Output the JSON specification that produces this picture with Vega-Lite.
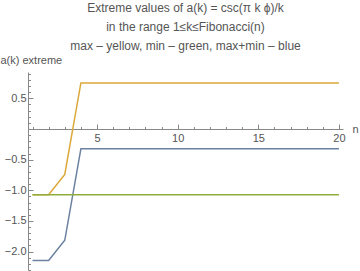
{
 "$schema": "https://vega.github.io/schema/vega-lite/v6.json",
 "width": 315, "height": 198,
 "autosize": {"type": "none"},
 "padding": {"left": 28, "top": 72, "right": 17, "bottom": 1},
 "background": "white",
 "title": {
  "text": ["Extreme values of a(k) = csc(π k ϕ)/k", "in the range 1≤k≤Fibonacci(n)", "max – yellow, min – green, max+min – blue"],
  "font": "Liberation Sans", "fontSize": 12, "fontWeight": "normal", "color": "#555555",
  "lineHeight": 19, "anchor": "middle", "offset": 1
 },
 "config": {
  "view": {"stroke": null},
  "axis": {"labelFont": "Liberation Sans", "titleFont": "Liberation Sans", "labelColor": "#555555", "titleColor": "#555555",
           "domainColor": "#888888", "tickColor": "#888888", "grid": false, "labelFontSize": 11, "titleFontSize": 11, "titleFontWeight": "normal", "labelFlush": false, "labelOverlap": false}
 },
 "data": {"values": [
  {"n": 1, "series": "max", "value": -1.073}, {"n": 2, "series": "max", "value": -1.073}, {"n": 3, "series": "max", "value": -0.742},
  {"n": 4, "series": "max", "value": 0.752}, {"n": 5, "series": "max", "value": 0.752}, {"n": 6, "series": "max", "value": 0.752},
  {"n": 7, "series": "max", "value": 0.752}, {"n": 8, "series": "max", "value": 0.752}, {"n": 9, "series": "max", "value": 0.752},
  {"n": 10, "series": "max", "value": 0.752}, {"n": 11, "series": "max", "value": 0.752}, {"n": 12, "series": "max", "value": 0.752},
  {"n": 13, "series": "max", "value": 0.752}, {"n": 14, "series": "max", "value": 0.752}, {"n": 15, "series": "max", "value": 0.752},
  {"n": 16, "series": "max", "value": 0.752}, {"n": 17, "series": "max", "value": 0.752}, {"n": 18, "series": "max", "value": 0.752},
  {"n": 19, "series": "max", "value": 0.752}, {"n": 20, "series": "max", "value": 0.752},
  {"n": 1, "series": "max+min", "value": -2.146}, {"n": 2, "series": "max+min", "value": -2.146}, {"n": 3, "series": "max+min", "value": -1.815},
  {"n": 4, "series": "max+min", "value": -0.321}, {"n": 5, "series": "max+min", "value": -0.321}, {"n": 6, "series": "max+min", "value": -0.321},
  {"n": 7, "series": "max+min", "value": -0.321}, {"n": 8, "series": "max+min", "value": -0.321}, {"n": 9, "series": "max+min", "value": -0.321},
  {"n": 10, "series": "max+min", "value": -0.321}, {"n": 11, "series": "max+min", "value": -0.321}, {"n": 12, "series": "max+min", "value": -0.321},
  {"n": 13, "series": "max+min", "value": -0.321}, {"n": 14, "series": "max+min", "value": -0.321}, {"n": 15, "series": "max+min", "value": -0.321},
  {"n": 16, "series": "max+min", "value": -0.321}, {"n": 17, "series": "max+min", "value": -0.321}, {"n": 18, "series": "max+min", "value": -0.321},
  {"n": 19, "series": "max+min", "value": -0.321}, {"n": 20, "series": "max+min", "value": -0.321},
  {"n": 1, "series": "min", "value": -1.073}, {"n": 2, "series": "min", "value": -1.073}, {"n": 3, "series": "min", "value": -1.073},
  {"n": 4, "series": "min", "value": -1.073}, {"n": 5, "series": "min", "value": -1.073}, {"n": 6, "series": "min", "value": -1.073},
  {"n": 7, "series": "min", "value": -1.073}, {"n": 8, "series": "min", "value": -1.073}, {"n": 9, "series": "min", "value": -1.073},
  {"n": 10, "series": "min", "value": -1.073}, {"n": 11, "series": "min", "value": -1.073}, {"n": 12, "series": "min", "value": -1.073},
  {"n": 13, "series": "min", "value": -1.073}, {"n": 14, "series": "min", "value": -1.073}, {"n": 15, "series": "min", "value": -1.073},
  {"n": 16, "series": "min", "value": -1.073}, {"n": 17, "series": "min", "value": -1.073}, {"n": 18, "series": "min", "value": -1.073},
  {"n": 19, "series": "min", "value": -1.073}, {"n": 20, "series": "min", "value": -1.073}
 ]},
 "layer": [
  {
   "mark": {"type": "line", "strokeWidth": 1.5, "clip": true},
   "encoding": {
    "x": {"field": "n", "type": "quantitative", "scale": {"domain": [0.72, 20.25], "nice": false, "zero": false},
          "axis": {"orient": "bottom", "offset": -141, "values": [5, 10, 15, 20], "tickSize": -5, "labelPadding": 8,
                   "title": "n", "titleX": 327, "titleY": 0, "titleAlign": "center", "titleBaseline": "middle"}},
    "y": {"field": "value", "type": "quantitative", "scale": {"domain": [-2.3, 0.93], "nice": false, "zero": false},
          "axis": {"orient": "left", "values": [-2, -1.5, -1, -0.5, 0.5], "format": ".1f", "tickSize": -5, "labelPadding": 7,
                   "title": "a(k) extreme", "titleAngle": 0, "titleX": -28, "titleY": -12, "titleAlign": "left", "titleBaseline": "middle"}},
    "color": {"field": "series", "type": "nominal",
              "scale": {"domain": ["max", "max+min", "min"], "range": ["#DBA83A", "#6A82A0", "#90AD3A"]}, "legend": null}
   }
  },
  {
   "mark": {"type": "line", "opacity": 0},
   "encoding": {
    "x": {"field": "n", "type": "quantitative",
          "axis": {"orient": "bottom", "offset": -141, "values": [1,2,3,4,6,7,8,9,11,12,13,14,16,17,18,19], "tickSize": -2.5, "labels": false, "domain": false, "title": null}},
    "y": {"field": "value", "type": "quantitative",
          "axis": {"orient": "left", "values": [-2.3,-2.2,-2.1,-1.9,-1.8,-1.7,-1.6,-1.4,-1.3,-1.2,-1.1,-0.9,-0.8,-0.7,-0.6,-0.4,-0.3,-0.2,-0.1,0.1,0.2,0.3,0.4,0.6,0.7,0.8,0.9], "tickSize": -2.5, "labels": false, "domain": false, "title": null}},
    "detail": {"field": "series"}
   }
  }
 ],
 "resolve": {"axis": {"x": "independent", "y": "independent"}}
}
